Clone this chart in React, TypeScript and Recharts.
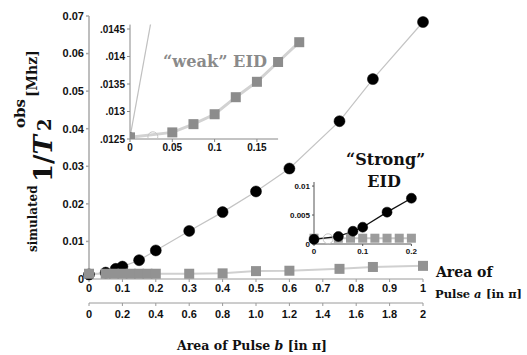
import React from "react"
import { ComposedChart, Line, XAxis, YAxis, ReferenceLine } from "recharts"

// main panel: simulated 1/T2 against pulse area a (top scale) and b = 2a (lower scale)
const strongA = [0, 0.05, 0.08, 0.1, 0.15, 0.2, 0.3, 0.4, 0.5, 0.6, 0.75, 0.85, 1.0]
const strongRate = [0.0012, 0.0017, 0.0027, 0.0033, 0.005, 0.0076, 0.0128, 0.0178, 0.0233, 0.0294, 0.042, 0.0532, 0.0684]
const weakA = [0, 0.05, 0.075, 0.1, 0.125, 0.15, 0.175, 0.2, 0.3, 0.4, 0.5, 0.6, 0.75, 0.85, 1.0]
const weakRate = [0.0014, 0.0014, 0.0014, 0.0014, 0.0014, 0.0014, 0.0014, 0.0014, 0.0014, 0.0015, 0.0021, 0.0022, 0.0027, 0.0032, 0.0035]

const pulseATicks = [0, 0.1, 0.2, 0.3, 0.4, 0.5, 0.6, 0.7, 0.8, 0.9, 1]
const pulseALabels = ["0", "0.1", "0.2", "0.3", "0.4", "0.5", "0.6", "0.7", "0.8", "0.9", "1"]
const pulseBTicks = [0, 0.2, 0.4, 0.6, 0.8, 1, 1.2, 1.4, 1.6, 1.8, 2]
const pulseBLabels = ["0", "0.2", "0.4", "0.6", "0.8", "1.0", "1.2", "1.4", "1.6", "1.8", "2"]
const rateTicks = [0, 0.01, 0.02, 0.03, 0.04, 0.05, 0.06, 0.07]
const rateLabels = ["0", "0.01", "0.02", "0.03", "0.04", "0.05", "0.06", "0.07"]

// "weak" EID inset
const weakZoomA = [0, 0.05, 0.075, 0.1, 0.125, 0.15, 0.175, 0.2]
const weakZoomRate = [0.01253, 0.01262, 0.01277, 0.01295, 0.01326, 0.01354, 0.0139, 0.01426]
const weakZoomSteepA = [0, 0.05]
const weakZoomSteepRate = [0.01253, 0.01677]
const weakZoomOpenA = [0.027]
const weakZoomOpenRate = [0.01254]
const weakZoomXTicks = [0, 0.05, 0.1, 0.15]
const weakZoomXLabels = ["0", "0.05", "0.1", "0.15"]
const weakZoomYTicks = [0.0125, 0.013, 0.0135, 0.014, 0.0145]
const weakZoomYLabels = [".0125", ".013", ".0135", ".014", ".0145"]

// "Strong" EID inset
const strongZoomA = [0, 0.05, 0.08, 0.1, 0.15, 0.2]
const strongZoomRate = [0.0008, 0.0013, 0.0022, 0.0029, 0.0055, 0.0079]
const strongZoomWeakA = [0, 0.05, 0.075, 0.1, 0.125, 0.15, 0.175, 0.2]
const strongZoomWeakRate = [0.001, 0.001, 0.001, 0.001, 0.001, 0.001, 0.001, 0.001]
const strongZoomOpenA = [0.029]
const strongZoomOpenRate = [0.0009]
const strongZoomXTicks = [0, 0.1, 0.2]
const strongZoomXLabels = ["0", "0.1", "0.2"]
const strongZoomYTicks = [0, 0.005, 0.01]
const strongZoomYLabels = ["0", "0.005", "0.01"]

const pts = (xs: number[], ys: number[]) => xs.map((x, i) => ({ x, y: ys[i] }))
const fmt = (ticks: number[], labels: string[]) => (v: number) => {
  const i = ticks.findIndex((t) => Math.abs(t - v) < 1e-9)
  return i >= 0 ? labels[i] : String(v)
}

const SANS = "Liberation Sans, Arial, sans-serif"
const SERIF = "DejaVu Serif, serif"
const tickStyle = (size: number) => ({ fill: "#111", fontSize: size, fontWeight: 700, fontFamily: SANS })

const squareDot = (size: number, fill: string) => (p: any) => (
  <rect key={`sq-${p.index}`} x={p.cx - size / 2} y={p.cy - size / 2} width={size} height={size} fill={fill} />
)

function RateTitle() {
  return (
    <g transform="translate(0,252) rotate(-90)" fontFamily={SERIF} fontWeight={700} fill="#111">
      <text x={0} y={37} fontSize={12}>simulated</text>
      <text x={70} y={52} fontSize={26}>
        1/<tspan fontStyle="italic">T</tspan>
      </text>
      <text x={121} y={51} fontSize={18}>2</text>
      <text x={124} y={25} fontSize={15}>obs</text>
      <text x={155} y={37} fontSize={14}>[Mhz]</text>
    </g>
  )
}

function PulseATitle() {
  return (
    <g fontFamily={SERIF} fontWeight={700} fill="#111">
      <text x={436} y={277} fontSize={14}>Area of</text>
      <text x={435} y={298} fontSize={11.5}>Pulse</text>
      <text x={474} y={298} fontSize={11.5} fontStyle="italic">a</text>
      <text x={486} y={298} fontSize={11.5}>[in π]</text>
    </g>
  )
}

function PulseBTitle() {
  return (
    <text x={177} y={350} fontFamily={SERIF} fontWeight={700} fontSize={12.5} fill="#111" textLength={150} lengthAdjust="spacingAndGlyphs">
      Area of Pulse <tspan fontStyle="italic">b</tspan> [in π]
    </text>
  )
}

function WeakTitle() {
  return (
    <text x={163} y={67} fontFamily={SERIF} fontWeight={700} fontSize={16} fill="#8a8a8a" textLength={104} lengthAdjust="spacingAndGlyphs">
      “weak” EID
    </text>
  )
}

function StrongTitle() {
  return (
    <g fontFamily={SERIF} fontWeight={700} fontSize={16} fill="#111">
      <text x={346} y={165}>“Strong”</text>
      <text x={384} y={187} textAnchor="middle">EID</text>
    </g>
  )
}

const layer: React.CSSProperties = { position: "absolute", left: 0, top: 0 }

export default function App() {
  const weakTop = 0.01458
  return (
    <div style={{ position: "relative", width: 527, height: 355, background: "#fff" }}>
      <style>{"body{margin:0}"}</style>

      <div style={layer}>
        <ComposedChart width={527} height={355} margin={{ top: 16, right: 104, left: 0, bottom: 24 }}>
          <XAxis
            xAxisId="a"
            dataKey="x"
            type="number"
            domain={[0, 1]}
            ticks={pulseATicks}
            tickFormatter={fmt(pulseATicks, pulseALabels)}
            interval={0}
            height={24}
            tickSize={3}
            stroke="#9a9a9a"
            tick={tickStyle(11)}
            label={<PulseATitle />}
          />
          <XAxis
            xAxisId="b"
            dataKey="x"
            type="number"
            domain={[0, 2]}
            allowDataOverflow
            ticks={pulseBTicks}
            tickFormatter={fmt(pulseBTicks, pulseBLabels)}
            interval={0}
            height={28}
            tickSize={3}
            tickMargin={4}
            stroke="#9a9a9a"
            tick={tickStyle(11)}
            label={<PulseBTitle />}
          />
          <YAxis
            type="number"
            domain={[0, 0.07]}
            ticks={rateTicks}
            tickFormatter={fmt(rateTicks, rateLabels)}
            interval={0}
            width={89}
            tickSize={3}
            stroke="#a8a8a8"
            strokeWidth={1.5}
            tick={tickStyle(11)}
            label={<RateTitle />}
          />
          {/* same strong-EID values against b = 2a, only to carry the lower axis */}
          <Line
            xAxisId="b"
            data={pts(strongA.map((a) => 2 * a), strongRate)}
            dataKey="y"
            stroke="none"
            dot={false}
            activeDot={false}
            isAnimationActive={false}
          />
          <Line
            xAxisId="a"
            data={pts(strongA, strongRate)}
            dataKey="y"
            stroke="#c4c4c4"
            strokeWidth={1.2}
            dot={{ r: 5.5, fill: "#000", stroke: "#000", strokeWidth: 0.5 }}
            isAnimationActive={false}
          />
          <Line
            xAxisId="a"
            data={pts(weakA, weakRate)}
            dataKey="y"
            stroke="#d0d0d0"
            strokeWidth={2}
            dot={squareDot(10, "#929292")}
            isAnimationActive={false}
          />
        </ComposedChart>
      </div>

      <div style={layer}>
        <ComposedChart width={527} height={355} margin={{ top: 24.6, right: 219.3, left: 90, bottom: 202 }}>
          <XAxis
            dataKey="x"
            type="number"
            domain={[0, 0.21]}
            allowDataOverflow
            ticks={weakZoomXTicks}
            tickFormatter={fmt(weakZoomXTicks, weakZoomXLabels)}
            interval={0}
            height={14}
            tickSize={3}
            axisLine={false}
            stroke="#888"
            tick={tickStyle(10)}
            label={<WeakTitle />}
          />
          <YAxis
            type="number"
            domain={[0.0125, weakTop]}
            allowDataOverflow
            ticks={weakZoomYTicks}
            tickFormatter={fmt(weakZoomYTicks, weakZoomYLabels)}
            interval={0}
            width={40}
            tickSize={3}
            stroke="#888"
            tick={tickStyle(10)}
          />
          <ReferenceLine
            segment={[{ x: 0, y: 0.0125 }, { x: 0.175, y: 0.0125 }]}
            stroke="#888"
            strokeWidth={1}
          />
          <Line
            data={pts(weakZoomSteepA, weakZoomSteepRate)}
            dataKey="y"
            stroke="#c0c0c0"
            strokeWidth={1.2}
            dot={(p: any) =>
              p.payload.y <= weakTop ? (
                <circle key={`st-${p.index}`} cx={p.cx} cy={p.cy} r={5} fill="#555" />
              ) : (
                <g key={`st-${p.index}`} />
              )
            }
            isAnimationActive={false}
          />
          <Line
            data={pts(weakZoomOpenA, weakZoomOpenRate)}
            dataKey="y"
            stroke="none"
            dot={{ r: 5, fill: "none", stroke: "#c4c4c4", strokeWidth: 1 }}
            isAnimationActive={false}
          />
          <Line
            data={pts(weakZoomA, weakZoomRate)}
            dataKey="y"
            stroke="#d2d2d2"
            strokeWidth={3}
            dot={squareDot(10, "#8c8c8c")}
            isAnimationActive={false}
          />
        </ComposedChart>
      </div>

      <div style={layer}>
        <ComposedChart width={527} height={355} margin={{ top: 182, right: 115.6, left: 284, bottom: 99 }}>
          <XAxis
            dataKey="x"
            type="number"
            domain={[0, 0.2]}
            ticks={strongZoomXTicks}
            tickFormatter={fmt(strongZoomXTicks, strongZoomXLabels)}
            interval={0}
            height={12}
            tickSize={2}
            stroke="#555"
            tick={tickStyle(8)}
            label={<StrongTitle />}
          />
          <YAxis
            type="number"
            domain={[0, 0.0107]}
            ticks={strongZoomYTicks}
            tickFormatter={fmt(strongZoomYTicks, strongZoomYLabels)}
            interval={0}
            width={30}
            tickSize={2}
            stroke="#555"
            tick={tickStyle(8)}
          />
          <Line
            data={pts(strongZoomWeakA, strongZoomWeakRate)}
            dataKey="y"
            stroke="#c8c8c8"
            strokeWidth={2}
            dot={squareDot(9, "#9c9c9c")}
            isAnimationActive={false}
          />
          <Line
            data={pts(strongZoomOpenA, strongZoomOpenRate)}
            dataKey="y"
            stroke="none"
            dot={{ r: 5, fill: "none", stroke: "#c4c4c4", strokeWidth: 1 }}
            isAnimationActive={false}
          />
          <Line
            data={pts(strongZoomA, strongZoomRate)}
            dataKey="y"
            stroke="#111"
            strokeWidth={1.3}
            dot={{ r: 5, fill: "#000", stroke: "#000", strokeWidth: 0.5 }}
            isAnimationActive={false}
          />
        </ComposedChart>
      </div>
    </div>
  )
}
